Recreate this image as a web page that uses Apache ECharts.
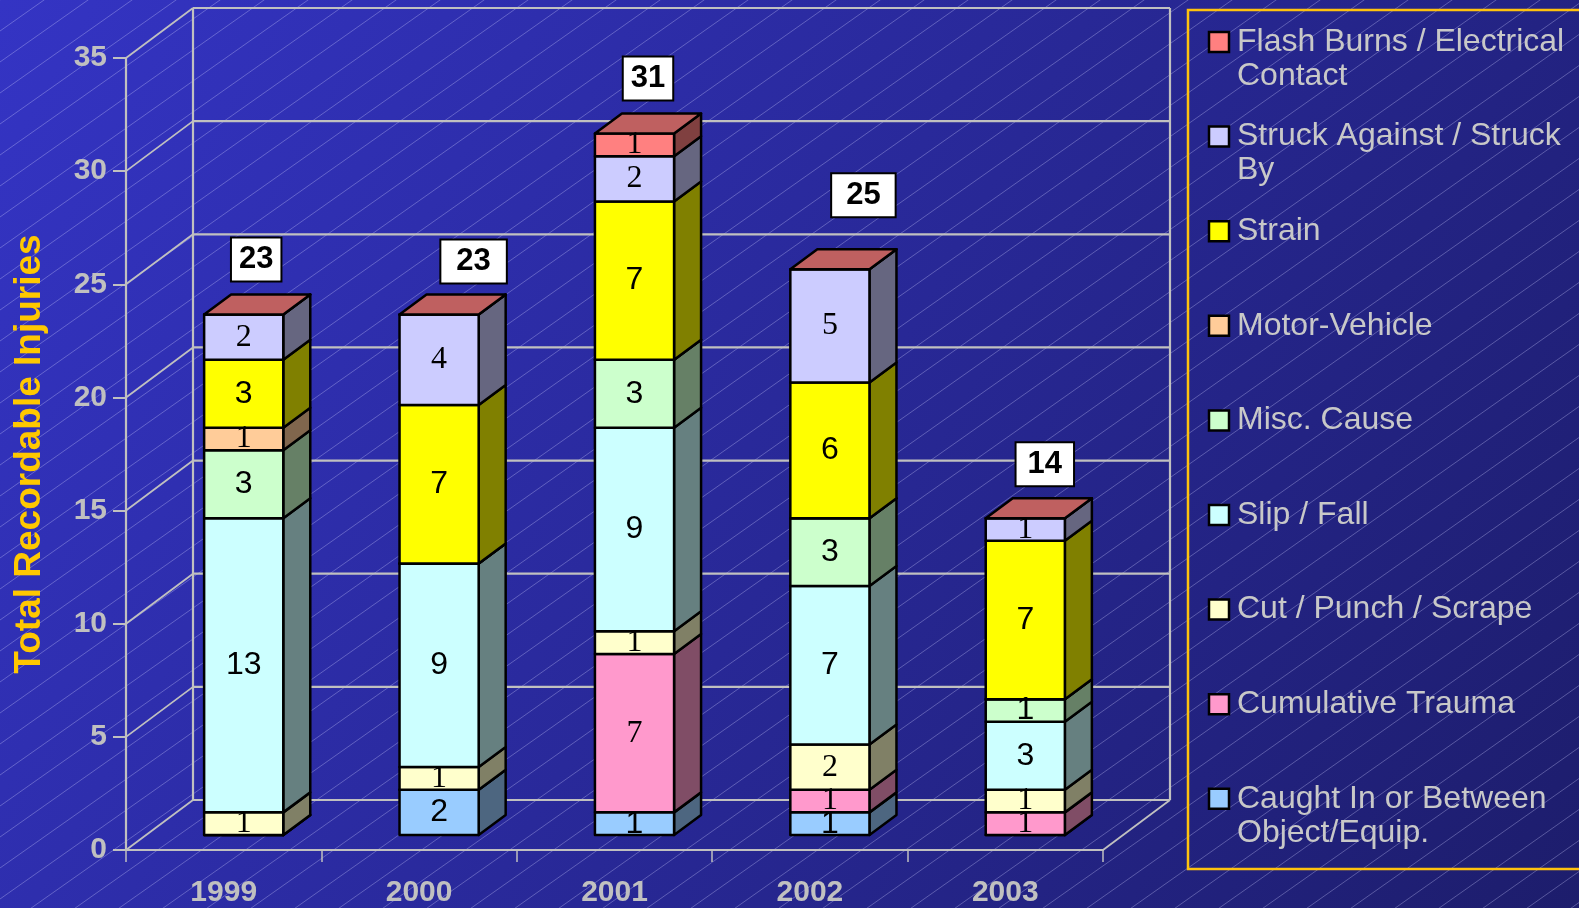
<!DOCTYPE html>
<html lang="en">
<head>
    <meta charset="utf-8">
    <script src="https://cdn.jsdelivr.net/npm/echarts@6/dist/echarts.min.js"></script>
    <title>Total Recordable Injuries</title>
    <style>
        html, body { margin: 0; padding: 0; }
        #container { width: 1579px; height: 908px; }
    </style>
</head>
<body>
<div id="container"></div>

<script type="text/javascript">
    // data, bottom of the stack first
    const years = ['1999', '2000', '2001', '2002', '2003'];
    const caughtIn = [0, 2, 1, 1, 0];
    const cumulativeTrauma = [0, 0, 7, 1, 1];
    const cutPunchScrape = [1, 1, 1, 2, 1];
    const slipFall = [13, 9, 9, 7, 3];
    const miscCause = [3, 0, 3, 3, 1];
    const motorVehicle = [1, 0, 0, 0, 0];
    const strain = [3, 7, 7, 6, 7];
    const struckBy = [2, 4, 2, 5, 1];
    const flashBurns = [0, 0, 1, 0, 0];
    const yTicks = [0, 5, 10, 15, 20, 25, 30, 35];

    const seriesNames = [
        'Caught In or Between Object/Equip.',
        'Cumulative Trauma',
        'Cut / Punch / Scrape',
        'Slip / Fall',
        'Misc. Cause',
        'Motor-Vehicle',
        'Strain',
        'Struck Against / Struck By',
        'Flash Burns / Electrical Contact'
    ];
    const seriesValues = [caughtIn, cumulativeTrauma, cutPunchScrape, slipFall, miscCause,
        motorVehicle, strain, struckBy, flashBurns];

    // styles
    const colors = ['#99ccff', '#ff99cc', '#ffffcc', '#ccffff', '#ccffcc', '#ffcc99', '#ffff00', '#ccccff', '#ff8080'];
    const serif = "'Liberation Serif', 'Times New Roman', serif";
    const sans = "'Liberation Sans', Arial, sans-serif";
    const labelFonts = [sans, serif, serif, sans, sans, serif, sans, serif, serif];
    const GRAY = '#c0c0c0';

    // fake 3d geometry (px)
    const WALL_DX = 67, WALL_DY = -50;   // back wall offset
    const FRONT_DX = 20, FRONT_DY = -15; // bar front face offset from front plane
    const DEPTH_DX = 27, DEPTH_DY = -20; // bar depth
    const BAR_RATIO = 0.405;
    const totalShift = [-1, 21, 0, 20, 6];
    const totalGap = [14, 12, 14, 33, 13];
    const totalPad = [7, 15, 7, 14, 11];

    const totals = years.map((y, i) => seriesValues.reduce((s, arr) => s + arr[i], 0));

    function shade(hex, k) {
        const n = parseInt(hex.slice(1), 16);
        const r = Math.round(((n >> 16) & 255) * k);
        const g = Math.round(((n >> 8) & 255) * k);
        const b = Math.round((n & 255) * k);
        return 'rgb(' + r + ',' + g + ',' + b + ')';
    }

    // hatch pattern for the background
    const hatch = document.createElement('canvas');
    hatch.width = 44;
    hatch.height = 31;
    (function () {
        const ctx = hatch.getContext('2d');
        ctx.strokeStyle = 'rgba(205,205,255,0.33)';
        ctx.lineWidth = 1;
        for (let n = 0; n <= 2; n++) {
            ctx.beginPath();
            ctx.moveTo(-10, n * 31 + 10 * 31 / 44);
            ctx.lineTo(54, n * 31 - 54 * 31 / 44);
            ctx.stroke();
        }
    })();

    // word wrap for legend names
    const measureCtx = document.createElement('canvas').getContext('2d');
    function wrap(text, font, maxW) {
        measureCtx.font = font;
        const words = text.split(' ');
        const lines = [];
        let cur = '';
        words.forEach(w => {
            const test = cur ? cur + ' ' + w : w;
            if (cur && measureCtx.measureText(test).width > maxW) {
                lines.push(cur);
                cur = w;
            } else {
                cur = test;
            }
        });
        lines.push(cur);
        return lines.join('\n');
    }

    function barRenderer(sIdx) {
        const isTop = sIdx === seriesNames.length - 1;
        return function (params, api) {
            const x = api.value(0), base = api.value(1), v = api.value(2);
            const p0 = api.coord([x, base]);
            const p1 = api.coord([x, base + v]);
            const bw = api.size([1, 0])[0] * BAR_RATIO;
            const l = p0[0] + FRONT_DX - bw / 2, r = l + bw;
            const b = p0[1] + FRONT_DY, t = p1[1] + FRONT_DY;
            const edge = {stroke: '#000', lineWidth: 2.5, lineJoin: 'round'};
            const children = [
                {
                    type: 'polygon',
                    shape: {points: [[r, t], [r + DEPTH_DX, t + DEPTH_DY], [r + DEPTH_DX, b + DEPTH_DY], [r, b]]},
                    style: Object.assign({fill: shade(colors[sIdx], 0.5)}, edge)
                },
                {
                    type: 'rect',
                    shape: {x: l, y: t, width: bw, height: b - t},
                    style: Object.assign({fill: colors[sIdx]}, edge)
                }
            ];
            if (isTop) {
                children.push({
                    type: 'polygon',
                    shape: {points: [[l, t], [l + DEPTH_DX, t + DEPTH_DY], [r + DEPTH_DX, t + DEPTH_DY], [r, t]]},
                    style: Object.assign({fill: shade(colors[sIdx], 0.75)}, edge)
                });
            }
            if (v > 0) {
                children.push({
                    type: 'text',
                    x: (l + r) / 2,
                    y: (t + b) / 2,
                    z2: 100,
                    style: {
                        text: String(v),
                        fill: '#000',
                        fontSize: 32,
                        fontFamily: labelFonts[sIdx],
                        align: 'center',
                        verticalAlign: 'middle'
                    }
                });
            }
            return {type: 'group', children: children};
        };
    }

    const barSeries = seriesNames.map((name, s) => {
        const data = seriesValues[s].map((v, i) => {
            let base = 0;
            for (let k = 0; k < s; k++) base += seriesValues[k][i];
            return [i, base, v];
        });
        return {
            type: 'custom',
            name: name,
            z: 2,
            data: data,
            encode: {x: 0, y: 1},
            renderItem: barRenderer(s)
        };
    });

    const wallSeries = {
        type: 'custom',
        name: 'wall',
        z: 1,
        silent: true,
        data: [[0, 0]],
        encode: {x: 0, y: 1},
        renderItem: function (params, api) {
            const cs = params.coordSys;
            const x0 = cs.x, x1 = cs.x + cs.width;
            const yLo = api.coord([0, yTicks[0]])[1];
            const yHi = api.coord([0, yTicks[yTicks.length - 1]])[1];
            const line = (ax, ay, bx, by, w) => ({
                type: 'line',
                shape: {x1: ax, y1: ay, x2: bx, y2: by},
                style: {stroke: GRAY, lineWidth: w}
            });
            const children = [];
            yTicks.forEach(v => {
                const y = api.coord([0, v])[1];
                children.push(line(x0, y, x0 + WALL_DX, y + WALL_DY, 1.8));
                children.push(line(x0 + WALL_DX, y + WALL_DY, x1 + WALL_DX, y + WALL_DY, 2.2));
            });
            children.push(line(x0 + WALL_DX, yLo + WALL_DY, x0 + WALL_DX, yHi + WALL_DY, 2.2));
            children.push(line(x1 + WALL_DX, yLo + WALL_DY, x1 + WALL_DX, yHi + WALL_DY, 2.2));
            children.push(line(x1, yLo, x1 + WALL_DX, yLo + WALL_DY, 1.8));
            return {type: 'group', children: children};
        }
    };

    const totalSeries = {
        type: 'custom',
        name: 'Total',
        z: 3,
        silent: true,
        data: totals.map((t, i) => [i, t]),
        encode: {x: 0, y: 1},
        renderItem: function (params, api) {
            const i = api.value(0), tot = api.value(1);
            const p = api.coord([i, tot]);
            return {
                type: 'text',
                x: p[0] + FRONT_DX + DEPTH_DX / 2 + totalShift[i],
                y: p[1] + FRONT_DY + DEPTH_DY - totalGap[i],
                style: {
                    text: String(tot),
                    fill: '#000',
                    fontSize: 31,
                    fontWeight: 'bold',
                    fontFamily: sans,
                    align: 'center',
                    verticalAlign: 'bottom',
                    lineHeight: 34,
                    backgroundColor: '#fff',
                    borderColor: '#000',
                    borderWidth: 2,
                    padding: [4, totalPad[i]]
                }
            };
        }
    };

    // legend drawn by hand so the square sits on the first line of wrapped names
    const legendFont = '32px ' + sans;
    const legendItems = [];
    for (let k = seriesNames.length - 1, row = 0; k >= 0; k--, row++) {
        const cy = 42 + row * 94.6;
        legendItems.push({
            type: 'rect',
            shape: {x: 1209, y: cy - 10, width: 20, height: 20},
            style: {fill: colors[k], stroke: '#000', lineWidth: 2.5}
        });
        legendItems.push({
            type: 'text',
            x: 1237,
            y: cy - 17,
            style: {
                text: wrap(seriesNames[k], legendFont, 336),
                fill: '#c8c8c8',
                font: legendFont,
                lineHeight: 34,
                verticalAlign: 'top'
            }
        });
    }

    const dom = document.getElementById('container');
    const myChart = echarts.init(dom, null, {renderer: 'canvas'});

    myChart.setOption({
        backgroundColor: '#2828a0',
        animation: false,
        graphic: [
            {
                type: 'rect', z: -10, silent: true,
                shape: {x: 0, y: 0, width: 1579, height: 908},
                style: {
                    fill: new echarts.graphic.LinearGradient(0, 0, 1, 1, [
                        {offset: 0, color: '#3434c4'},
                        {offset: 1, color: '#1d1d6c'}
                    ])
                }
            },
            {
                type: 'rect', z: -9, silent: true,
                shape: {x: 0, y: 0, width: 1579, height: 908},
                style: {fill: {image: hatch, repeat: 'repeat'}}
            },
            {
                type: 'rect', z: -8, silent: true,
                shape: {x: 1188, y: 10, width: 500, height: 859},
                style: {fill: 'none', stroke: '#ffc20e', lineWidth: 2.5}
            },
            {type: 'group', children: legendItems}
        ],
        grid: {left: 126, top: 58, width: 977, height: 792},
        xAxis: {
            type: 'category',
            data: years,
            axisLine: {lineStyle: {color: GRAY, width: 2}},
            axisTick: {show: true, length: 12, lineStyle: {color: GRAY, width: 1.5}},
            axisLabel: {color: GRAY, fontSize: 30, fontWeight: 'bold', fontFamily: sans, margin: 28},
            splitLine: {show: false}
        },
        yAxis: {
            type: 'value',
            min: yTicks[0],
            max: yTicks[yTicks.length - 1],
            interval: yTicks[1] - yTicks[0],
            name: 'Total Recordable Injuries',
            nameLocation: 'middle',
            nameRotate: 90,
            nameGap: 78,
            nameTextStyle: {color: '#ffc800', fontSize: 37, fontWeight: 'bold', fontFamily: sans},
            axisLine: {show: true, lineStyle: {color: GRAY, width: 2.2}},
            axisTick: {show: true, length: 13, lineStyle: {color: GRAY, width: 2}},
            axisLabel: {color: GRAY, fontSize: 30, fontWeight: 'bold', fontFamily: sans, margin: 19},
            splitLine: {show: false}
        },
        series: [wallSeries].concat(barSeries, [totalSeries])
    });
</script>
</body>
</html>
